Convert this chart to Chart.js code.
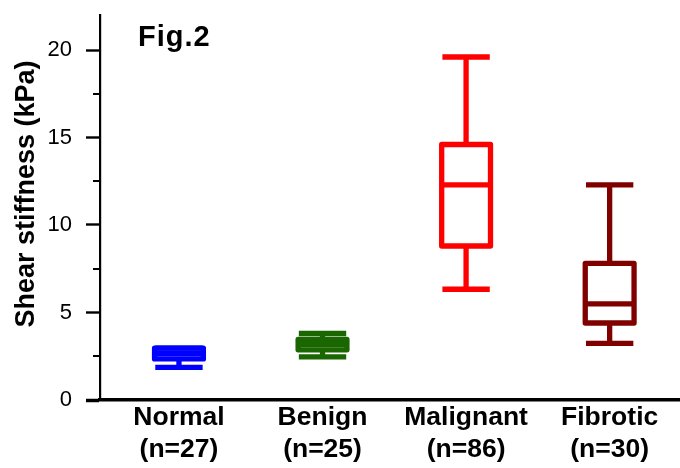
<!DOCTYPE html>
<html>
<head>
<meta charset="utf-8">
<title>Fig.2 Shear stiffness</title>
<script src="https://cdn.jsdelivr.net/npm/chart.js@4.4.0/dist/chart.umd.min.js"></script>
<style>
  html, body { margin: 0; padding: 0; background: #fff; }
</style>
</head>
<body>
<canvas id="canvas-1" width="680" height="468"></canvas>
<script>
'use strict';

//values (kPa)
var categories = ['Normal', 'Benign', 'Malignant', 'Fibrotic'];
var groupSizes = ['(n=27)', '(n=25)', '(n=86)', '(n=30)'];
var whiskerLow = [1.86, 2.47, 6.33, 3.24];
var q1 = [2.35, 2.87, 8.8, 4.4];
var median = [2.65, 3.17, 12.29, 5.49];
var q3 = [2.97, 3.46, 14.6, 7.81];
var whiskerHigh = [2.97, 3.8, 19.6, 12.29];
var boxColors = ['#0000ff', '#1a6600', '#ff0000', '#800000'];

var yTicks = [0, 5, 10, 15, 20];
var yMinorTicks = [2.5, 7.5, 12.5, 17.5];
var yTitle = 'Shear stiffness (kPa)';
var figLabel = 'Fig.2';

var fontFamily = "'Liberation Sans', Arial, Helvetica, sans-serif";

//box and whisker drawing, positions come from the chart scales
var boxPlotPlugin = {
    id: 'boxPlots',
    afterDatasetsDraw: function (chart) {
        var ctx = chart.ctx;
        var xs = chart.scales.x;
        var ys = chart.scales.y;
        ctx.save();
        for (var i = 0; i < categories.length; i++) {
            var cx = xs.getPixelForValue(i + 1);
            var half = xs.getPixelForValue(i + 1 + 0.17) - cx;
            var capHalf = xs.getPixelForValue(i + 1 + 0.165) - cx;
            var yLo = ys.getPixelForValue(whiskerLow[i]);
            var yQ1 = ys.getPixelForValue(q1[i]);
            var yMed = ys.getPixelForValue(median[i]);
            var yQ3 = ys.getPixelForValue(q3[i]);
            var yHi = ys.getPixelForValue(whiskerHigh[i]);

            ctx.strokeStyle = boxColors[i];
            ctx.lineWidth = 5.3;
            ctx.lineCap = 'butt';

            //whiskers
            ctx.beginPath();
            ctx.moveTo(cx, yLo); ctx.lineTo(cx, yQ1);
            ctx.moveTo(cx, yQ3); ctx.lineTo(cx, yHi);
            ctx.moveTo(cx - capHalf, yLo); ctx.lineTo(cx + capHalf, yLo);
            ctx.moveTo(cx - capHalf, yHi); ctx.lineTo(cx + capHalf, yHi);
            ctx.stroke();

            //box
            ctx.lineJoin = 'round';
            ctx.strokeRect(cx - half, yQ3, half * 2, yQ1 - yQ3);

            //median
            ctx.beginPath();
            ctx.moveTo(cx - half, yMed); ctx.lineTo(cx + half, yMed);
            ctx.stroke();
        }
        ctx.restore();
    }
};

//minor y ticks, rotated axis title and the figure label
var extrasPlugin = {
    id: 'extras',
    afterDraw: function (chart) {
        var ctx = chart.ctx;
        var ys = chart.scales.y;
        var area = chart.chartArea;
        ctx.save();
        ctx.strokeStyle = '#000';
        ctx.lineWidth = 2.2;
        ctx.beginPath();
        for (var i = 0; i < yMinorTicks.length; i++) {
            var py = Math.round(ys.getPixelForValue(yMinorTicks[i]));
            ctx.moveTo(area.left - 7, py);
            ctx.lineTo(area.left, py);
        }
        ctx.stroke();

        ctx.fillStyle = '#000';
        ctx.translate(27, 194);
        ctx.rotate(-Math.PI / 2);
        ctx.font = 'bold 27px ' + fontFamily;
        ctx.textAlign = 'center';
        ctx.textBaseline = 'middle';
        ctx.fillText(yTitle, 0, 0);
        ctx.restore();

        ctx.save();
        ctx.fillStyle = '#000';
        ctx.font = 'bold 29px ' + fontFamily;
        ctx.textAlign = 'left';
        ctx.textBaseline = 'alphabetic';
        if ('letterSpacing' in ctx) ctx.letterSpacing = '1px';
        ctx.fillText(figLabel, area.left + 38, 46);
        ctx.restore();
    }
};

var medianPoints = [];
for (var i = 0; i < categories.length; i++) {
    medianPoints.push({ x: i + 1, y: median[i] });
}

var ctx = document.getElementById('canvas-1');
var chart = new Chart(ctx, {
    type: 'scatter',
    data: {
        datasets: [{
            label: 'median',
            data: medianPoints,
            pointRadius: 0,
            pointHoverRadius: 0,
            showLine: false
        }]
    },
    plugins: [boxPlotPlugin, extrasPlugin],
    options: {
        responsive: false,
        animation: false,
        layout: { padding: { top: 15, left: 0, right: 0, bottom: 0 } },
        plugins: {
            legend: { display: false },
            tooltip: { enabled: false }
        },
        scales: {
            x: {
                type: 'linear',
                position: 'bottom',
                min: 0.45,
                max: 4.49,
                afterBuildTicks: function (scale) {
                    scale.ticks = categories.map(function (c, i) { return { value: i + 1 }; });
                },
                afterFit: function (scale) {
                    scale.height = 68;
                    scale.paddingLeft = 0;
                    scale.paddingRight = 0;
                },
                grid: { display: false, drawTicks: false, tickLength: 0 },
                border: { display: true, color: '#000', width: 3.5 },
                ticks: {
                    autoSkip: false,
                    maxRotation: 0,
                    padding: 1,
                    color: '#000',
                    font: { family: fontFamily, size: 26.5, weight: 'bold', lineHeight: 1.23 },
                    callback: function (value) {
                        var idx = Math.round(value) - 1;
                        return [categories[idx], groupSizes[idx]];
                    }
                }
            },
            y: {
                type: 'linear',
                min: 0,
                max: 22,
                afterBuildTicks: function (scale) {
                    scale.ticks = yTicks.map(function (v) { return { value: v }; });
                },
                afterFit: function (scale) {
                    scale.width = 100;
                    scale.paddingTop = 0;
                    scale.paddingBottom = 0;
                },
                grid: {
                    display: true,
                    drawOnChartArea: false,
                    drawTicks: true,
                    tickLength: 14,
                    tickColor: '#000',
                    tickWidth: function (c) { return c.tick && c.tick.value === 0 ? 3.5 : 2.4; }
                },
                border: { display: true, color: '#000', width: 2.2 },
                ticks: {
                    padding: 14,
                    color: '#000',
                    font: { family: fontFamily, size: 22 }
                }
            }
        }
    }
});
</script>
</body>
</html>
